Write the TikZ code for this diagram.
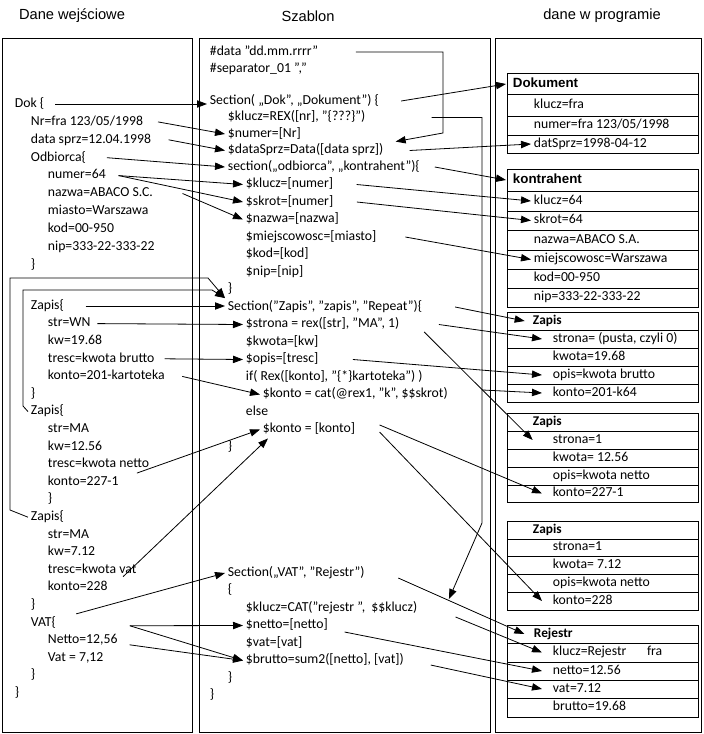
\documentclass[tikz,border=0pt]{standalone}
\usepackage{fontspec}
\setmainfont{Carlito}
\newfontfamily\headfont{Liberation Sans}
\usetikzlibrary{arrows.meta}

\tikzset{
  txt/.style={anchor=west, inner sep=2pt, text height=7pt, text depth=2pt, font=\fontsize{10.3}{12}\selectfont},
  colhead/.style={font=\headfont\fontsize{11}{13}\selectfont},
  boxhead/.style={txt, font=\headfont\bfseries\fontsize{10}{12}\selectfont},
  rowhead/.style={txt, font=\bfseries\fontsize{10}{12}\selectfont},
  arr/.style={-{Triangle[length=7.5pt,width=5.5pt]}, line width=0.6pt},
  frame/.style={line width=0.65pt},
  table/.style={line width=0.6pt}
}

\begin{document}
\begin{tikzpicture}[x=0.75pt,y=-0.75pt]
\useasboundingbox (0,0) rectangle (703,734);

% column titles
\node[colhead] (tIn) at (72,16) {Dane wejściowe};
\node[colhead] (tTpl) at (308,16) {Szablon};
\node[colhead] (tOut) at (602,16) {dane w programie};

% frames
\draw[frame] (2,38) rectangle (192,732);
\draw[frame] (199,38) rectangle (490,732);
\draw[frame] (495,38) rectangle (701,732);

% input data
\node[txt] (lDok) at (12,104) {Dok \{};
\node[txt] (lNr) at (28,121.9) {Nr=fra 123/05/1998};
\node[txt] (lData) at (28,139.8) {data sprz=12.04.1998};
\node[txt] (lOdb) at (28,157.7) {Odbiorca\{};
\node[txt] (lNumer) at (45,175.6) {numer=64};
\node[txt] (lNazwa) at (45,193.5) {nazwa=ABACO S.C.};
\node[txt] (lMiasto) at (45,211.4) {miasto=Warszawa};
\node[txt] (lKod) at (45,229.3) {kod=00-950};
\node[txt] (lNip) at (45,247.2) {nip=333-22-333-22};
\node[txt] (lEnd1) at (28,265.1) {\}};
\node[txt] (lZap1) at (28,306) {Zapis\{};
\node[txt] (lStr1) at (45,323.6) {str=WN};
\node[txt] (lKw1) at (45,341.2) {kw=19.68};
\node[txt] (lTr1) at (45,358.8) {tresc=kwota brutto};
\node[txt] (lKo1) at (45,376.4) {konto=201-kartoteka};
\node[txt] (lEnd2) at (28,394) {\}};
\node[txt] (lZap2) at (28,411.6) {Zapis\{};
\node[txt] (lStr2) at (45,429.2) {str=MA};
\node[txt] (lKw2) at (45,446.8) {kw=12.56};
\node[txt] (lTr2) at (45,464.4) {tresc=kwota netto};
\node[txt] (lKo2) at (45,482) {konto=227-1};
\node[txt] (lEnd3) at (45,499.6) {\}};
\node[txt] (lZap3) at (28,517.2) {Zapis\{};
\node[txt] (lStr3) at (45,534.8) {str=MA};
\node[txt] (lKw3) at (45,552.4) {kw=7.12};
\node[txt] (lTr3) at (45,570) {tresc=kwota vat};
\node[txt] (lKo3) at (45,587.6) {konto=228};
\node[txt] (lEnd4) at (28,605.2) {\}};
\node[txt] (lVat) at (28,622.8) {VAT\{};
\node[txt] (lNetto) at (45,640.4) {Netto=12,56};
\node[txt] (lVatv) at (45,658) {Vat = 7,12};
\node[txt] (lEnd5) at (28,675.6) {\}};
\node[txt] (lEnd6) at (12,693.2) {\}};

% template
\node[txt] (mData) at (207,52) {\#data ”dd.mm.rrrr”};
\node[txt] (mSep) at (207,69) {\#separator\_01 ”,”};
\node[txt] (mSec1) at (207,101) {Section( „Dok”, „Dokument”) \{};
\node[txt] (mKlucz1) at (225,117.5) {\$klucz=REX([nr], ”\{???\}”)};
\node[txt] (mNumer) at (225,134) {\$numer=[Nr]};
\node[txt] (mDataS) at (225,150.5) {\$dataSprz=Data([data sprz])};
\node[txt] (mSec2) at (225,167) {section(„odbiorca”, „kontrahent”)\{};
\node[txt] (mKlucz2) at (243,184.5) {\$klucz=[numer]};
\node[txt] (mSkrot) at (243,202) {\$skrot=[numer]};
\node[txt] (mNazwa) at (243,219.5) {\$nazwa=[nazwa]};
\node[txt] (mMiejsc) at (243,237) {\$miejscowosc=[miasto]};
\node[txt] (mKod) at (243,254.5) {\$kod=[kod]};
\node[txt] (mNip) at (243,272) {\$nip=[nip]};
\node[txt] (mEnd1) at (225,289.5) {\}};
\node[txt] (mSec3) at (225,307) {Section(”Zapis”, ”zapis”, ”Repeat”)\{};
\node[txt] (mStrona) at (243,324.5) {\$strona = rex([str], ”MA”, 1)};
\node[txt] (mKwota) at (243,342) {\$kwota=[kw]};
\node[txt] (mOpis) at (243,359.5) {\$opis=[tresc]};
\node[txt] (mIf) at (243,377) {if( Rex([konto], ”\{*\}kartoteka”) )};
\node[txt] (mKonto1) at (260,394.5) {\$konto = cat(@rex1, ”k”, \$\$skrot)};
\node[txt] (mElse) at (243,412) {else};
\node[txt] (mKonto2) at (260,429.5) {\$konto = [konto]};
\node[txt] (mEnd2) at (225,447) {\}};
\node[txt] (mSec4) at (225,573) {Section(„VAT”, ”Rejestr”)};
\node[txt] (mOpen) at (225,590.5) {\{};
\node[txt] (mKlucz3) at (243,608) {\$klucz=CAT(”rejestr ”, \ \$\$klucz)};
\node[txt] (mNetto) at (243,625.5) {\$netto=[netto]};
\node[txt] (mVat) at (243,643) {\$vat=[vat]};
\node[txt] (mBrutto) at (243,660.5) {\$brutto=sum2([netto], [vat])};
\node[txt] (mEnd3) at (225,678) {\}};
\node[txt] (mEnd4) at (207,695.5) {\}};

% program data: Dokument
\draw[table] (507,73) rectangle (698,153);
\draw[table] (507,94) -- (698,94) (507,116) -- (698,116) (507,135) -- (698,135);
\node[boxhead] (dokH) at (510,84) {Dokument};
\node[txt] (dk1) at (531,105) {klucz=fra};
\node[txt] (dk2) at (531,125.5) {numer=fra 123/05/1998};
\node[txt] (dk3) at (531,144) {datSprz=1998-04-12};

% kontrahent
\draw[table] (507,169) rectangle (698,307);
\draw[table] (507,191) -- (698,191) (507,211) -- (698,211) (507,230) -- (698,230)
  (507,250) -- (698,250) (507,269) -- (698,269) (507,288) -- (698,288);
\node[boxhead] (konH) at (510,180) {kontrahent};
\node[txt] (kn1) at (531,201) {klucz=64};
\node[txt] (kn2) at (531,220.5) {skrot=64};
\node[txt] (kn3) at (531,240) {nazwa=ABACO S.A.};
\node[txt] (kn4) at (531,259.5) {miejscowosc=Warszawa};
\node[txt] (kn5) at (531,278.5) {kod=00-950};
\node[txt] (kn6) at (531,297.5) {nip=333-22-333-22};

% Zapis 1
\draw[table] (507,312) rectangle (698,402);
\draw[table] (507,330) -- (698,330) (507,348) -- (698,348) (507,366) -- (698,366) (507,384) -- (698,384);
\node[rowhead] (zaH1) at (530,321) {Zapis};
\node[txt] (za11) at (550,339) {strona= (pusta, czyli 0)};
\node[txt] (za12) at (550,357) {kwota=19.68};
\node[txt] (za13) at (550,375) {opis=kwota brutto};
\node[txt] (za14) at (550,393) {konto=201-k64};

% Zapis 2
\draw[table] (507,413) rectangle (698,502);
\draw[table] (507,431) -- (698,431) (507,449) -- (698,449) (507,467) -- (698,467) (507,485) -- (698,485);
\node[rowhead] (zaH2) at (530,422) {Zapis};
\node[txt] (za21) at (550,440) {strona=1};
\node[txt] (za22) at (550,458) {kwota= 12.56};
\node[txt] (za23) at (550,476) {opis=kwota netto};
\node[txt] (za24) at (550,493.5) {konto=227-1};

% Zapis 3
\draw[table] (507,521) rectangle (698,610);
\draw[table] (507,539) -- (698,539) (507,556) -- (698,556) (507,574) -- (698,574) (507,592) -- (698,592);
\node[rowhead] (zaH3) at (530,530) {Zapis};
\node[txt] (za31) at (550,547.5) {strona=1};
\node[txt] (za32) at (550,565) {kwota= 7.12};
\node[txt] (za33) at (550,583) {opis=kwota netto};
\node[txt] (za34) at (550,601) {konto=228};

% Rejestr
\draw[table] (507,625) rectangle (698,717);
\draw[table] (507,643) -- (698,643) (507,662) -- (698,662) (507,680) -- (698,680) (507,698) -- (698,698);
\node[rowhead] (rejH) at (531,634) {Rejestr};
\node[txt] (rj1) at (550,652.5) {klucz=Rejestr\hspace{1.5em}fra};
\node[txt] (rj2) at (550,671) {netto=12.56};
\node[txt] (rj3) at (550,689) {vat=7.12};
\node[txt] (rj4) at (550,707.5) {brutto=19.68};

% input -> template
\draw[arr] ([xshift=6pt]lDok.east) -- (lDok.east -| mSec1.west);
\draw[arr] ([xshift=9pt]lNr.east) -- (mNumer.west);
\draw[arr] ([xshift=11pt]lData.east) -- (mDataS.west);
\draw[arr] ([xshift=13.5pt]lOdb.east) -- (mSec2.west);
\draw[arr] ([xshift=7.5pt]lNumer.east) -- (mKlucz2.west);
\draw[arr] ([xshift=7.5pt]lNumer.east) -- (mSkrot.west);
\draw[arr] ([xshift=20pt]lNazwa.east) -- (mNazwa.west);
\draw[arr] ([xshift=14pt]lZap1.east) -- (lZap1.east -| mSec3.west);
\draw[arr] (lZap2.west) -- (23,406) |- (212,290) -- (mSec3.north west);
\draw[arr] (lZap3.west) -- (10,510) |- (208,278) -- (mSec3.north west);
\draw[arr] ([xshift=3pt]lStr1.east) -- (mStrona.west);
\draw[arr] ([xshift=5.5pt]lTr1.east) -- (mOpis.west);
\draw[arr] ([xshift=11pt]lKo1.east) -- (mKonto1.west);
\draw[arr] ([xshift=11.5pt]lKo2.north east) -- (mKonto2.west);
\draw[arr] ([xshift=9.5pt,yshift=1.5pt]lKo3.north east) -- ([xshift=6pt]mKonto2.south west);
\draw[arr] ([xshift=13pt]lVat.north east) -- (mSec4.west);
\draw[arr] ([xshift=7pt,yshift=4.3pt]lNetto.north east) -- (mNetto.west);
\draw[arr] ([xshift=7pt,yshift=4.3pt]lNetto.north east) -- (mBrutto.west);
\draw[arr] ([xshift=17.5pt,yshift=3.2pt]lVatv.north east) -- (mBrutto.west);

% inside the template
\draw[arr] ([xshift=26pt]mData.east) -| (443,133) -- ([xshift=7pt]mDataS.north east);
\draw[arr] ([xshift=47.5pt]mKlucz1.east) -| (482,523) -- ([xshift=21.5pt]mKlucz3.north east);

% template -> program data
\draw[arr] ([xshift=14.5pt]mSec1.east) -- ([xshift=-3pt]dokH.west);
\draw[arr] ([xshift=17.5pt]mDataS.east) -- (dk3.west);
\draw[arr] ([xshift=9pt]mSec2.east) -- ([xshift=-3pt]konH.west);
\draw[arr] ([xshift=15.5pt]mKlucz2.east) -- (kn1.west);
\draw[arr] ([xshift=15.5pt]mSkrot.east) -- (kn2.west);
\draw[arr] ([xshift=19.5pt]mMiejsc.east) -- (kn4.west);
\draw[arr] ([xshift=22.5pt]mSec3.east) -- ([xshift=-4pt]zaH1.west);
\draw[arr] ([xshift=27.5pt]mStrona.east) -- ([xshift=-6pt]za11.west);
\draw[arr] ([xshift=16.5pt,yshift=-5.6pt]mStrona.east) -- ([xshift=-13pt]za21.west);
\draw[arr] ([xshift=23.75pt]mOpis.east) -- ([xshift=-6pt]za13.west);
\draw[arr] ([xshift=23.5pt,yshift=3.4pt]mKonto1.east) -- ([xshift=-6pt]za14.west);
\draw[arr] ([xshift=16.25pt,yshift=3.4pt]mKonto2.east) -- ([xshift=-6pt]za24.west);
\draw[arr] ([xshift=16.25pt,yshift=-1.9pt]mKonto2.east) -- ([xshift=-6pt]za34.west);
\draw[arr] ([xshift=23pt,yshift=-3.75pt]mSec4.east) -- ([xshift=-5pt]rejH.west);
\draw[arr] ([xshift=26.5pt,yshift=-6.75pt]mKlucz3.east) -- ([xshift=-6pt]rj1.west);
\draw[arr] ([xshift=10.5pt,yshift=-4.9pt]mNetto.east) -- ([xshift=-6pt]rj2.west);
\draw[arr] ([xshift=18pt,yshift=-3.4pt]mBrutto.east) -- ([xshift=-6pt]rj3.west);

\end{tikzpicture}
\end{document}
